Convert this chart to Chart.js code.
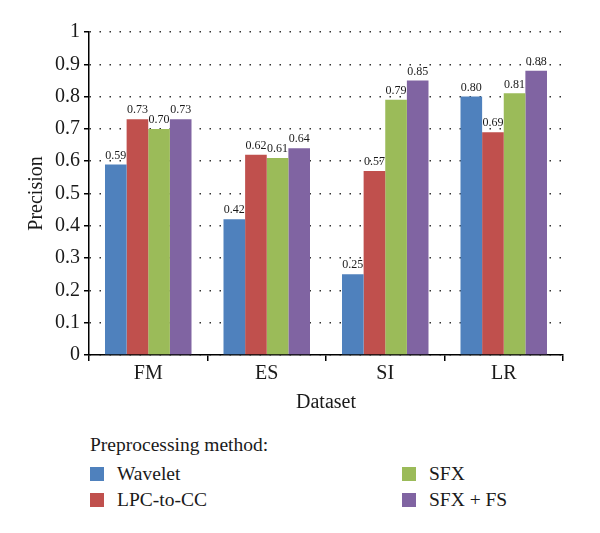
<!DOCTYPE html>
<html>
<head>
<meta charset="utf-8">
<script src="https://cdn.jsdelivr.net/npm/chart.js@4/dist/chart.umd.min.js"></script>
<style>
  body { margin: 0; background: #fff; font-family: "Liberation Serif", serif; color: #1a1a1a; }
  #wrap { position: relative; width: 600px; height: 533px; }
  #legend { position: absolute; left: 90px; top: 433px; width: 480px; font-size: 19.5px; }
  #legend .title { position: absolute; left: 0; top: 0; white-space: nowrap; line-height: 24px; }
  #legend .item { position: absolute; white-space: nowrap; line-height: 24px; }
  #legend .box { position: absolute; left: 0; top: 5px; width: 14px; height: 14px; }
  #legend .lbl { position: absolute; left: 27px; top: 0; }
</style>
</head>
<body>
<div id="wrap">
  <canvas id="chart" width="600" height="420"></canvas>
  <div id="legend"></div>
</div>
<script>
const categories = ['FM', 'ES', 'SI', 'LR'];
const seriesNames = ['Wavelet', 'LPC-to-CC', 'SFX', 'SFX + FS'];
const wavelet = [0.59, 0.42, 0.25, 0.80];
const lpcToCC = [0.73, 0.62, 0.57, 0.69];
const sfx = [0.70, 0.61, 0.79, 0.81];
const sfxFS = [0.73, 0.64, 0.85, 0.88];
const colors = ['#4F81BD', '#C0504D', '#9BBB59', '#8064A2'];

const serif = '"Liberation Serif", serif';

// values over the bars
const valueLabels = {
  id: 'valueLabels',
  afterDatasetsDraw(chart) {
    const ctx = chart.ctx;
    ctx.save();
    ctx.font = '12px ' + serif;
    ctx.fillStyle = '#1a1a1a';
    ctx.textAlign = 'center';
    ctx.textBaseline = 'bottom';
    chart.data.datasets.forEach((ds, i) => {
      chart.getDatasetMeta(i).data.forEach((bar, j) => {
        ctx.fillText(ds.data[j].toFixed(2), bar.x, bar.y - 3);
      });
    });
    ctx.restore();
  }
};

const allSeries = [wavelet, lpcToCC, sfx, sfxFS];

new Chart(document.getElementById('chart'), {
  type: 'bar',
  data: {
    labels: categories,
    datasets: allSeries.map((d, i) => ({
      label: seriesNames[i],
      data: d,
      backgroundColor: colors[i],
      borderWidth: 0,
      barPercentage: 1,
      categoryPercentage: 0.73
    }))
  },
  options: {
    responsive: false,
    animation: false,
    layout: { padding: { left: 0, right: 37, top: 32, bottom: 0 } },
    plugins: { legend: { display: false }, tooltip: { enabled: false } },
    scales: {
      x: {
        afterFit(scale) { scale.height = 65; },
        grid: { offset: true, drawOnChartArea: false, drawTicks: true, tickLength: 6, color: '#000', lineWidth: 1.5 },
        border: { display: true, color: '#000', width: 1.5 },
        ticks: { color: '#1a1a1a', font: { family: serif, size: 20 }, padding: 1 },
        title: { display: true, text: 'Dataset', color: '#1a1a1a', font: { family: serif, size: 20 }, padding: { top: 0, bottom: 5 } }
      },
      y: {
        min: 0,
        max: 1,
        afterFit(scale) { scale.width = 89; },
        grid: {
          color: '#333', lineWidth: 1.5,
          drawTicks: true, tickLength: 5, tickColor: '#000', tickWidth: 1.5, tickBorderDash: []
        },
        border: { display: true, color: '#000', width: 1.5, dash: [1.5, 8.5] },
        ticks: {
          stepSize: 0.1, padding: 4, color: '#1a1a1a', font: { family: serif, size: 20 },
          callback: v => String(Math.round(v * 10) / 10)
        },
        title: { display: true, text: 'Precision', color: '#1a1a1a', font: { family: serif, size: 20 }, padding: { top: 25, bottom: 0 } }
      }
    }
  },
  plugins: [valueLabels]
});

// legend: title plus two columns
const legend = document.getElementById('legend');
const t = document.createElement('div');
t.className = 'title';
t.textContent = 'Preprocessing method:';
legend.appendChild(t);
const colX = [0, 312];
seriesNames.forEach((name, i) => {
  const item = document.createElement('div');
  item.className = 'item';
  item.style.left = colX[Math.floor(i / 2)] + 'px';
  item.style.top = (29 + (i % 2) * 26) + 'px';
  item.innerHTML = '<span class="box" style="background:' + colors[i] + '"></span><span class="lbl"></span>';
  item.querySelector('.lbl').textContent = name;
  legend.appendChild(item);
});
</script>
</body>
</html>
